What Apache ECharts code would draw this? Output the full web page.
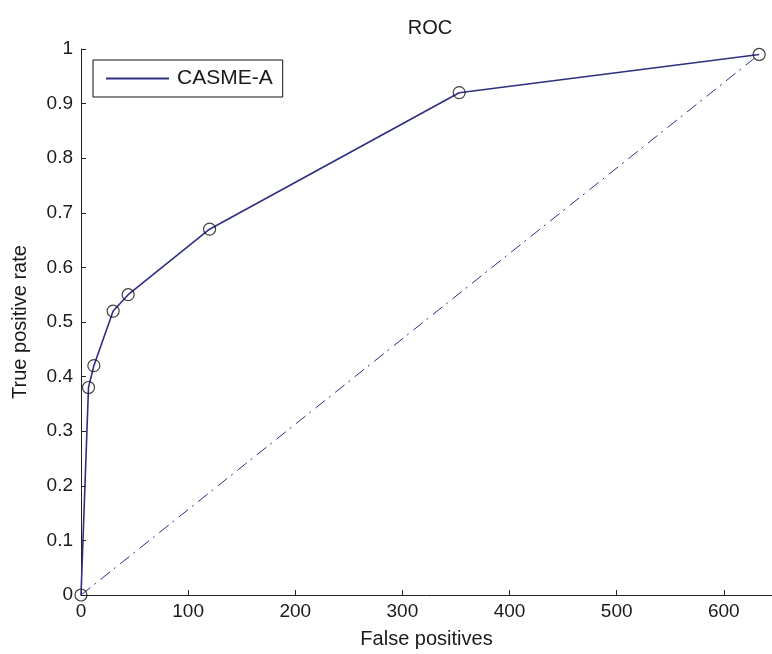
<!DOCTYPE html>
<html>
<head>
<meta charset="utf-8">
<script src="https://cdn.jsdelivr.net/npm/echarts@6/dist/echarts.min.js"></script>
<style>
  html, body { margin: 0; padding: 0; background: #fff; }
  #chart { width: 772px; height: 654px; }
</style>
</head>
<body>
<div id="chart"></div>
<script>
// ROC curve: false positives vs true positive rate
const seriesName = 'CASME-A';
const falsePositives = [0, 7, 12, 30, 44, 120, 353, 633];
const truePositiveRate = [0, 0.38, 0.42, 0.52, 0.55, 0.67, 0.92, 0.99];
const xTicks = [0, 100, 200, 300, 400, 500, 600];
const yTicks = [0, 0.1, 0.2, 0.3, 0.4, 0.5, 0.6, 0.7, 0.8, 0.9, 1];

const curve = falsePositives.map((fp, i) => [fp, truePositiveRate[i]]);
const last = curve.length - 1;
// chance diagonal from the first to the last operating point
const chanceLine = [[falsePositives[0], truePositiveRate[0]], [falsePositives[last], truePositiveRate[last]]];

const lineColor = '#2e2e82';
const textColor = '#1a1a1a';
const font = 'Liberation Sans, Arial, sans-serif';

const chart = echarts.init(document.getElementById('chart'), null, { renderer: 'canvas' });
chart.setOption({
  animation: false,
  backgroundColor: '#fff',
  title: {
    text: 'ROC',
    left: 425, top: 13, textAlign: 'center',
    textStyle: { fontFamily: font, fontSize: 20, fontWeight: 'normal', color: textColor }
  },
  legend: {
    left: 93, top: 60,
    data: [seriesName],
    itemWidth: 63, itemHeight: 14, itemGap: 0,
    padding: [8, 10, 8, 12],
    borderColor: '#111', borderWidth: 1, borderRadius: 0,
    backgroundColor: '#fff',
    itemStyle: { color: 'rgba(0,0,0,0)', borderWidth: 0, borderColor: 'rgba(0,0,0,0)' },
    textStyle: { fontFamily: font, fontSize: 21, color: textColor, padding: [0, 0, 0, 3] }
  },
  grid: { left: 81, right: 0, top: 49, bottom: 57, containLabel: false },
  xAxis: {
    type: 'value', min: xTicks[0], max: 645, interval: xTicks[1] - xTicks[0],
    name: 'False positives', nameLocation: 'middle', nameGap: 34,
    nameTextStyle: { fontFamily: font, fontSize: 20, color: textColor },
    axisLine: { show: true, onZero: false, lineStyle: { color: '#222', width: 1 } },
    axisTick: { show: true, inside: true, length: 5, lineStyle: { color: '#222' } },
    axisLabel: { fontFamily: font, fontSize: 19, color: textColor, margin: 7, showMaxLabel: false,
      formatter: v => xTicks.includes(v) ? String(v) : '' },
    splitLine: { show: false }
  },
  yAxis: {
    type: 'value', min: yTicks[0], max: yTicks[yTicks.length - 1], interval: 0.1,
    name: 'True positive rate', nameLocation: 'middle', nameGap: 51,
    nameTextStyle: { fontFamily: font, fontSize: 20, color: textColor },
    axisLine: { show: true, onZero: false, lineStyle: { color: '#222', width: 1 } },
    axisTick: { show: true, inside: true, length: 5, lineStyle: { color: '#222' } },
    axisLabel: { fontFamily: font, fontSize: 19, color: textColor, margin: 8,
      formatter: v => String(+v.toFixed(1)) },
    splitLine: { show: false }
  },
  series: [
    {
      name: seriesName, type: 'line', data: curve,
      symbol: 'none',
      lineStyle: { color: lineColor, width: 1.6 },
      itemStyle: { color: lineColor },
      z: 3
    },
    {
      name: 'markers', type: 'scatter', data: curve,
      symbol: 'circle', symbolSize: 12,
      itemStyle: { color: 'rgba(0,0,0,0)', borderColor: '#111', borderWidth: 1.2 },
      z: 4
    },
    {
      name: 'chance', type: 'line', data: chanceLine,
      symbol: 'none',
      lineStyle: { color: lineColor, width: 1, type: [12, 5, 2, 6] },
      z: 2
    }
  ]
});
</script>
</body>
</html>
